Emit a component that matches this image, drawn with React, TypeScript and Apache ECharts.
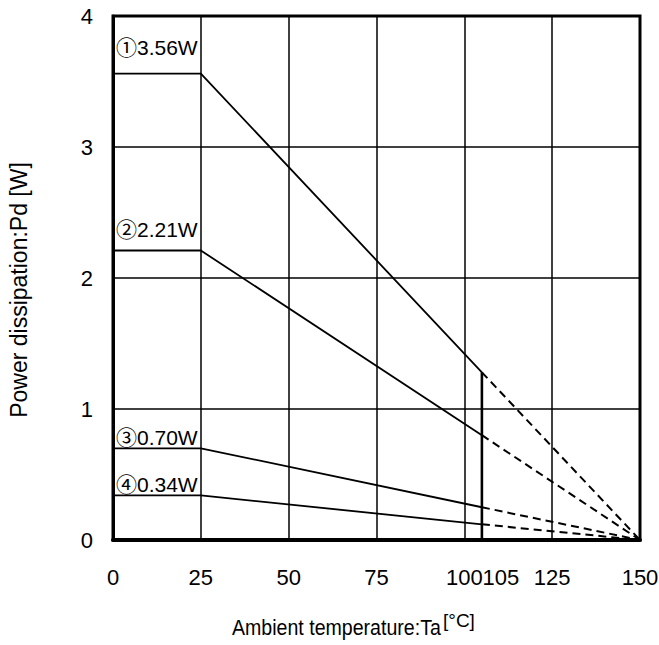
import React, { useEffect, useRef } from "react";
import * as echarts from "echarts";

const xTicks = [0, 25, 50, 75, 100, 105, 125, 150];
const tempPoints = [0, 25, 105, 150];
const pdMax = [3.56, 2.21, 0.7, 0.34];
const pdAt105 = [1.28, 0.8, 0.25, 0.12];
const pdAt150 = [0, 0, 0, 0];
const seriesLabels = ["①3.56W", "②2.21W", "③0.70W", "④0.34W"];
const yTicks = [0, 1, 2, 3, 4];

const FONT = "'Liberation Sans', Arial, 'Noto Sans CJK JP', sans-serif";
const labelLift = [26, 21, 11, 11];

export default function App() {
  const ref = useRef<HTMLDivElement>(null);
  useEffect(() => {
    if (!ref.current) return;
    const chart = echarts.init(ref.current, null, { renderer: "svg" });
    const series: any[] = [];
    pdMax.forEach((v, i) => {
      series.push({
        type: "line",
        name: "s" + i,
        symbol: "circle",
        symbolSize: 0,
        showSymbol: true,
        silent: true,
        lineStyle: { color: "#000", width: 1.8 },
        data: [
          {
            value: [tempPoints[0], v],
            label: {
              show: true,
              formatter: seriesLabels[i],
              position: "right",
              distance: 3,
              offset: [0, -labelLift[i]],
              color: "#000",
              fontSize: 21,
              fontFamily: FONT,
            },
          },
          [tempPoints[1], v],
          [tempPoints[2], pdAt105[i]],
        ],
        z: 3,
      });
      series.push({
        type: "line",
        name: "d" + i,
        symbol: "none",
        silent: true,
        lineStyle: { color: "#000", width: 2, type: [8, 5] },
        data: [
          [tempPoints[2], pdAt105[i]],
          [tempPoints[3], pdAt150[i]],
        ],
        z: 3,
      });
    });
    series.push({
      type: "line",
      name: "v105",
      symbol: "none",
      silent: true,
      lineStyle: { color: "#000", width: 2.6 },
      data: [
        [tempPoints[2], 0],
        [tempPoints[2], pdAt105[0]],
      ],
      z: 3,
    });

    chart.setOption({
      animation: false,
      backgroundColor: "#fff",
      grid: {
        left: 113,
        top: 16,
        right: 19,
        bottom: 105,
        containLabel: false,
        outerBoundsMode: "none",
        show: true,
        borderColor: "#000",
        borderWidth: 3,
      },
      xAxis: {
        type: "value",
        min: 0,
        max: 150,
        interval: 25,
        axisLine: { show: true, onZero: false, lineStyle: { color: "#000", width: 4 } },
        axisTick: { show: false },
        splitLine: { show: true, lineStyle: { color: "#000", width: 1.5 } },
        axisLabel: {
          customValues: xTicks,
          margin: 26,
          color: "#000",
          fontSize: 22,
          fontFamily: FONT,
          showMinLabel: true,
          showMaxLabel: true,
          formatter: (v: number) => (v === 105 ? "{l|105}" : String(v)),
          rich: {
            l: { padding: [0, 0, 0, 38], fontSize: 22, fontFamily: FONT, color: "#000" },
          },
        },
      },
      yAxis: {
        type: "value",
        min: 0,
        max: 4,
        interval: 1,
        axisLine: { show: true, onZero: false, lineStyle: { color: "#000", width: 3 } },
        axisTick: { show: false },
        splitLine: { show: true, lineStyle: { color: "#000", width: 1.5 } },
        axisLabel: {
          customValues: yTicks,
          margin: 20,
          color: "#000",
          fontSize: 22,
          fontFamily: FONT,
        },
      },
      graphic: [
        {
          type: "text",
          x: 232,
          y: 627,
          scaleX: 0.89,
          style: {
            text: "Ambient temperature:Ta",
            fill: "#000",
            font: `22px ${FONT}`,
            textAlign: "left",
            textVerticalAlign: "middle",
          },
        },
        {
          type: "text",
          x: 443,
          y: 620,
          style: {
            text: "[°C]",
            fill: "#000",
            font: `19px ${FONT}`,
            textAlign: "left",
            textVerticalAlign: "middle",
          },
        },
        {
          type: "text",
          x: 19,
          y: 290,
          rotation: Math.PI / 2,
          style: {
            text: "Power dissipation:Pd [W]",
            fill: "#000",
            font: `23px ${FONT}`,
            textAlign: "center",
            textVerticalAlign: "middle",
          },
        },
      ],
      series,
    });
    return () => chart.dispose();
  }, []);
  return (
    <div
      ref={ref}
      style={{ position: "fixed", left: 0, top: 0, width: 659, height: 645, background: "#fff" }}
    />
  );
}
